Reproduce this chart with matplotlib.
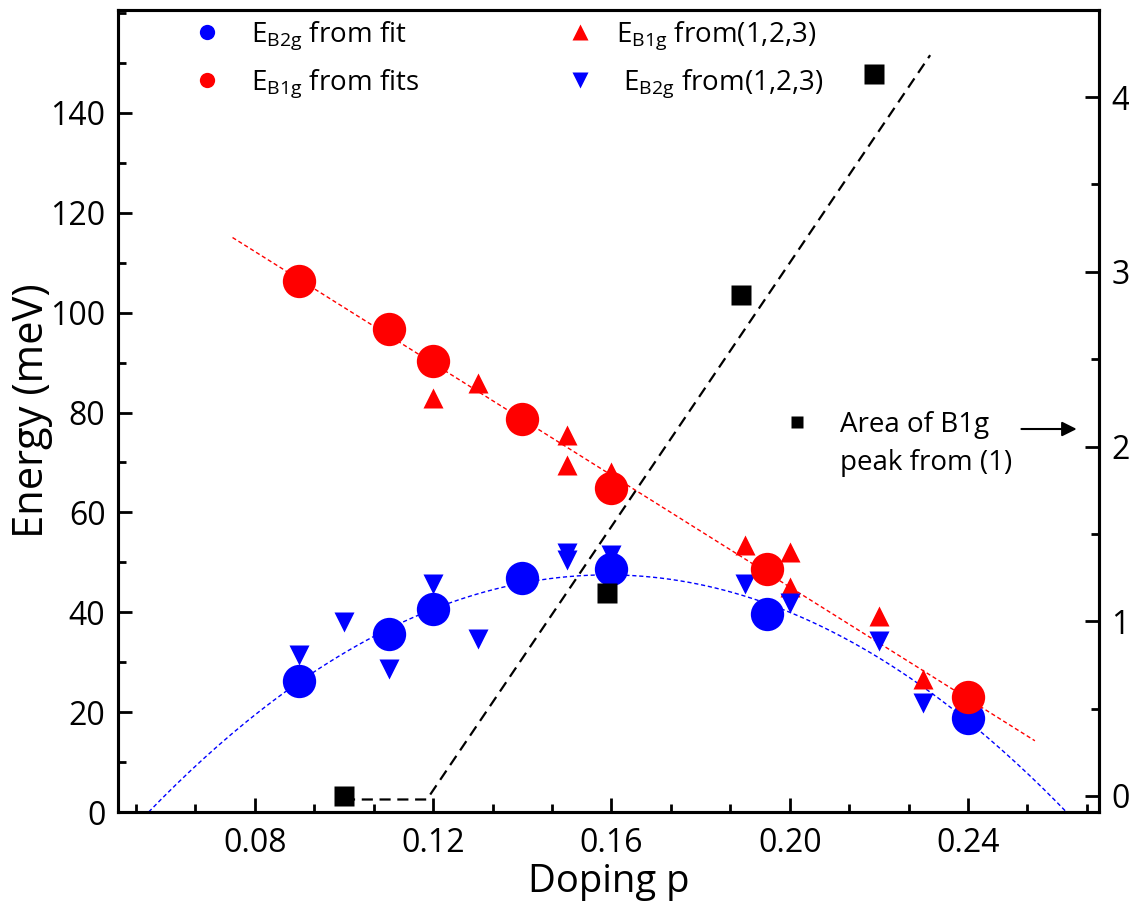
import numpy as np
import matplotlib.pyplot as plt
from matplotlib.lines import Line2D
from matplotlib.ticker import MultipleLocator, AutoMinorLocator

plt.rcParams['font.family'] = ['Open Sans', 'DejaVu Sans']
plt.rcParams['mathtext.fontset'] = 'custom'
plt.rcParams['mathtext.rm'] = 'Open Sans'
plt.rcParams['mathtext.default'] = 'regular'

# energies from fits (circles)
p_fit = [0.09, 0.11, 0.12, 0.14, 0.16, 0.195, 0.24]
b1g_fit = [106.3, 96.7, 90.3, 78.7, 64.9, 48.7, 23.0]
b2g_fit = [26.2, 35.6, 40.7, 46.9, 48.7, 39.7, 18.8]

# energies from refs (1,2,3) (triangles)
p_b1g_ref = [0.12, 0.13, 0.15, 0.15, 0.16, 0.19, 0.20, 0.20, 0.22, 0.23]
b1g_ref = [83.0, 86.0, 75.5, 69.5, 68.0, 53.4, 52.0, 45.0, 39.3, 26.6]
p_b2g_ref = [0.09, 0.10, 0.11, 0.12, 0.13, 0.15, 0.15, 0.16, 0.19, 0.20, 0.22, 0.23]
b2g_ref = [31.4, 38.0, 28.6, 45.7, 34.6, 51.9, 50.5, 51.5, 45.7, 41.9, 34.2, 21.8]

# area of B1g peak (right axis)
p_area = [0.10, 0.159, 0.189, 0.219]
area = [0.0, 1.16, 2.87, 4.13]
area_guide_x = [0.10, 0.1186, 0.2315]
area_guide_y = [-0.02, -0.02, 4.24]

energy_ticks = [0, 20, 40, 60, 80, 100, 120, 140]

fig = plt.figure(figsize=(11.29, 9.17), dpi=100)
ax = fig.add_axes([0.1045, 0.1145, 0.869, 0.8745])
ax2 = ax.twinx()

# fit curves
k1 = np.polyfit(p_fit, b1g_fit, 1)
xr = np.linspace(0.075, 0.255, 50)
ax.plot(xr, np.polyval(k1, xr), ls=(0, (3, 2)), color='red', lw=1)

k2 = np.polyfit(p_fit, b2g_fit, 2)
r = np.sort(np.roots(k2).real)
xb = np.linspace(r[0], r[1], 200)
ax.plot(xb, np.polyval(k2, xb), ls=(0, (3, 2)), color='blue', lw=1)

ax.plot(p_b1g_ref, b1g_ref, '^', color='red', ms=14, mec='none', zorder=3)
ax.plot(p_b2g_ref, b2g_ref, 'v', color='blue', ms=14, mec='none', zorder=3)
ax.plot(p_fit, b2g_fit, 'o', color='blue', ms=24, mec='none', zorder=4)
ax.plot(p_fit, b1g_fit, 'o', color='red', ms=24, mec='none', zorder=4)

ax2.plot(area_guide_x, area_guide_y, ls=(0, (5, 3)), color='black', lw=1.6)
ax2.plot(p_area, area, 's', color='black', ms=15, mec='none')

ax.set_xlim(0.0493, 0.2694)
ax.set_ylim(0, 160.6)
ax2.set_ylim(-0.0916, 4.498)

ax.xaxis.set_major_locator(MultipleLocator(0.04))
ax.xaxis.set_minor_locator(AutoMinorLocator(3))
ax.set_yticks(energy_ticks)
ax.yaxis.set_minor_locator(MultipleLocator(10))
ax2.yaxis.set_major_locator(MultipleLocator(1))
ax2.yaxis.set_minor_locator(AutoMinorLocator(2))
ax.xaxis.set_major_formatter(plt.FuncFormatter(lambda v, pos: f'{v:.2f}'))

for a in (ax, ax2):
    for s in a.spines.values():
        s.set_linewidth(2.2)
    a.tick_params(which='major', direction='in', length=10, width=2, labelsize=23)
    a.tick_params(which='minor', direction='in', length=6, width=2)
ax.tick_params(top=False, right=False)
ax.tick_params(axis='x', pad=11)
ax.tick_params(axis='y', pad=9)
ax2.tick_params(axis='y', pad=9)

ax.set_xlabel('Doping p', fontsize=27.5, labelpad=2)
ax.set_ylabel('Energy (meV)', fontsize=30)
ax.yaxis.set_label_coords(-0.066, 0.5)

lkw = dict(loc='upper left', frameon=False, fontsize=20, handlelength=1,
           labelspacing=0.55, borderpad=0, borderaxespad=0)
h1 = [Line2D([], [], ls='none', marker='o', color='blue', ms=11, mec='none'),
      Line2D([], [], ls='none', marker='o', color='red', ms=11, mec='none')]
leg1 = ax.legend(h1, ['E$_{B2g}$ from fit', 'E$_{B1g}$ from fits'],
                 bbox_to_anchor=(0.0765, 0.988), handletextpad=1.1, **lkw)
ax.add_artist(leg1)
h2 = [Line2D([], [], ls='none', marker='^', color='red', ms=11, mec='none'),
      Line2D([], [], ls='none', marker='v', color='blue', ms=11, mec='none')]
leg2 = ax.legend(h2, ['E$_{B1g}$ from(1,2,3)', ' E$_{B2g}$ from(1,2,3)'],
                 bbox_to_anchor=(0.4567, 0.988), handletextpad=0.8, **lkw)
ax.add_artist(leg2)
h3 = [Line2D([], [], ls='none', marker='s', color='black', ms=9, mec='none')]
ax.legend(h3, ['Area of B1g'], bbox_to_anchor=(0.678, 0.5), handletextpad=1.04,
          **lkw)
ax.text(0.736, 0.435, 'peak from (1)', transform=ax.transAxes, fontsize=20,
        va='center', ha='left')
ax.annotate('', xy=(0.98, 0.4776), xytext=(0.918, 0.4776), xycoords='axes fraction',
            arrowprops=dict(arrowstyle='-|>', color='black', lw=1.5, mutation_scale=22))

fig.savefig('out.png', dpi=100)
